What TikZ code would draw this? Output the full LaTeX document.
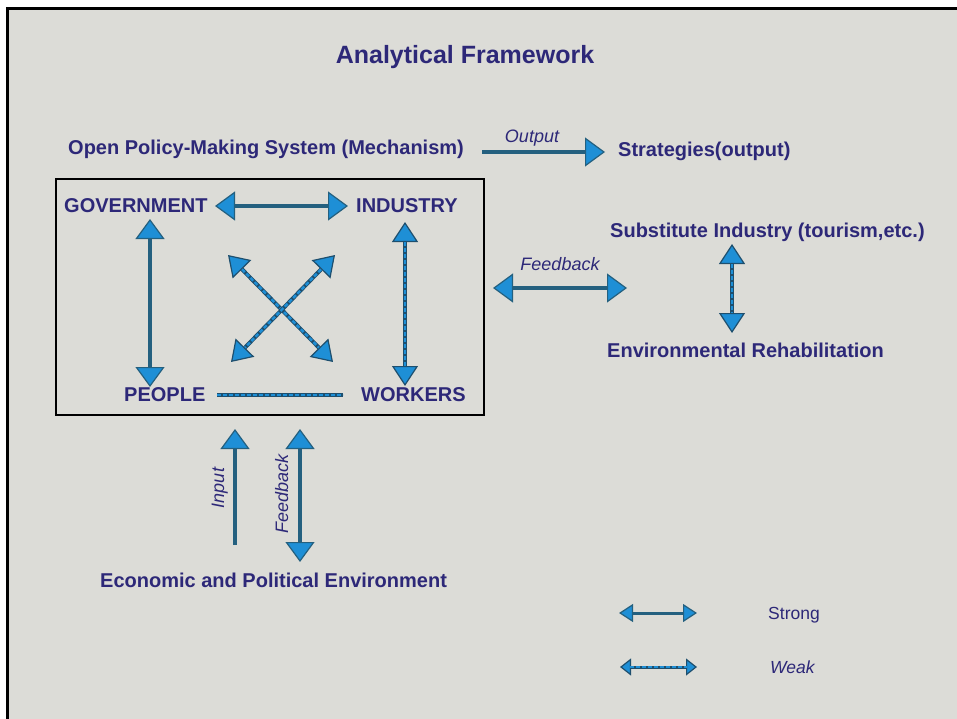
\documentclass[tikz,border=0pt]{standalone}
\usepackage{fontspec}
\setmainfont{Liberation Sans}
\usetikzlibrary{arrows.meta}
\definecolor{bg}{HTML}{DCDCD7}
\definecolor{txt}{HTML}{2D2878}
\definecolor{headc}{HTML}{1E8FD6}
\definecolor{shaftc}{HTML}{24607F}
\definecolor{edgec}{HTML}{1E4F6E}
\tikzset{
  lbl/.style={text=txt, font=\fontsize{20}{24}\selectfont\bfseries, inner sep=0pt, anchor=base west},
  ttl/.style={text=txt, font=\fontsize{25}{30}\selectfont\bfseries, inner sep=0pt, anchor=base},
  ital/.style={text=txt, font=\fontsize{18}{22}\selectfont\itshape, inner sep=0pt, anchor=base},
  legt/.style={text=txt, font=\fontsize{17.5}{21}\selectfont, inner sep=0pt, anchor=base west},
  bigtip/.tip={Triangle[length=20pt,width=29pt,line width=1.2pt,fill=headc]},
  weaktip/.tip={Triangle[length=20pt,width=26pt,line width=1.2pt,fill=headc]},
  smalltip/.tip={Triangle[length=14pt,width=18pt,line width=1.2pt,fill=headc]},
  tinytip/.tip={Triangle[length=11pt,width=17pt,line width=1.2pt,fill=headc]},
  strong/.style={draw=shaftc, line width=4pt},
  weak/.style={draw=edgec, line width=4pt,
    postaction={draw=headc, line width=2.4pt, dash pattern=on 4pt off 2pt, arrows=-, shorten <=#1, shorten >=#1}},
  weak/.default=20pt
}
\begin{document}
\begin{tikzpicture}[x=1pt,y=-1pt]
\useasboundingbox (0,0) rectangle (957,719);
\fill[white] (0,0) rectangle (957,719);
\fill[bg] (6,7) rectangle (957,719);
\draw[black, line width=3pt] (7.5,719) -- (7.5,8.5) -- (957,8.5);

% title
\node[ttl] (title) at (465,64) {Analytical Framework};

% top row
\node[lbl] (ops) at (68,155) {Open Policy-Making System (Mechanism)};
\node[lbl] (strat) at (618,157) {Strategies(output)};
\coordinate (o1) at (482,152);
\coordinate (o2) at (605,152);
\draw[strong, arrows={-bigtip}] (o1) -- (o2);
\node[ital] (outl) at (532,143) {Output};

% main box
\draw[black, line width=2pt] (56,179) rectangle (484,415);
\node[lbl] (gov) at (64,213) {GOVERNMENT};
\node[lbl] (ind) at (356,213) {INDUSTRY};
\node[lbl] (peo) at (124,401) {PEOPLE};
\node[lbl] (wor) at (361,401) {WORKERS};

\coordinate (gi1) at (215,206);
\coordinate (gi2) at (348,206);
\draw[strong, arrows={bigtip-bigtip}] (gi1) -- (gi2);

\coordinate (gp1) at (150,219);
\coordinate (gp2) at (150,387);
\draw[strong, arrows={bigtip-bigtip}] (gp1) -- (gp2);

\coordinate (iw1) at (405,222);
\coordinate (iw2) at (405,386);
\draw[weak, arrows={weaktip-weaktip}] (iw1) -- (iw2);

\coordinate (d1a) at (228,255);
\coordinate (d1b) at (333,362);
\draw[weak, arrows={weaktip-weaktip}] (d1a) -- (d1b);
\coordinate (d2a) at (335,255);
\coordinate (d2b) at (231,362);
\draw[weak, arrows={weaktip-weaktip}] (d2a) -- (d2b);

\coordinate (pw1) at (217,395);
\coordinate (pw2) at (343,395);
\draw[weak=0pt] (pw1) -- (pw2);

% right side
\node[lbl] (sub) at (610,237) {Substitute Industry (tourism,etc.)};
\node[lbl] (env) at (607,357) {Environmental Rehabilitation};
\coordinate (se1) at (732,244);
\coordinate (se2) at (732,333);
\draw[weak, arrows={weaktip-weaktip}] (se1) -- (se2);

\coordinate (fb1) at (493,288);
\coordinate (fb2) at (627,288);
\draw[strong, arrows={bigtip-bigtip}] (fb1) -- (fb2);
\node[ital] (fbl) at (560,270) {Feedback};

% bottom
\coordinate (in1) at (235,545);
\coordinate (in2) at (235,429);
\draw[strong, arrows={-bigtip}] (in1) -- (in2);
\node[ital, rotate=90] (inl) at (224,488) {Input};

\coordinate (fv1) at (300,429);
\coordinate (fv2) at (300,562);
\draw[strong, arrows={bigtip-bigtip}] (fv1) -- (fv2);
\node[ital, rotate=90] (fvl) at (288,494) {Feedback};

\node[lbl] (eco) at (100,587) {Economic and Political Environment};

% legend
\coordinate (ls1) at (619,613);
\coordinate (ls2) at (697,613);
\draw[strong, line width=3pt, arrows={smalltip-smalltip}] (ls1) -- (ls2);
\node[legt] (lst) at (768,619) {Strong};
\coordinate (lw1) at (620,667);
\coordinate (lw2) at (697,667);
\draw[weak=10pt, line width=3pt, arrows={tinytip-tinytip}] (lw1) -- (lw2);
\node[legt, font=\fontsize{17.5}{21}\selectfont\itshape] (lwt) at (770,673) {Weak};
\end{tikzpicture}
\end{document}
